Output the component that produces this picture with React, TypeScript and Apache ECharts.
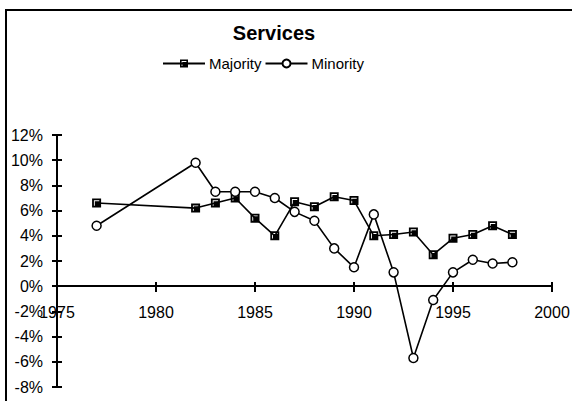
import React, { useEffect, useRef } from "react";
import * as echarts from "echarts";

const years = [1977, 1982, 1983, 1984, 1985, 1986, 1987, 1988, 1989, 1990, 1991, 1992, 1993, 1994, 1995, 1996, 1997, 1998];
const majority = [6.6, 6.2, 6.6, 7.0, 5.4, 4.0, 6.7, 6.3, 7.1, 6.8, 4.0, 4.1, 4.3, 2.5, 3.8, 4.1, 4.8, 4.1];
const minority = [4.8, 9.8, 7.5, 7.5, 7.5, 7.0, 5.9, 5.2, 3.0, 1.5, 5.7, 1.1, -5.7, -1.1, 1.1, 2.1, 1.8, 1.9];
const seriesNames = ["Majority", "Minority"];
const chartTitle = "Services";

const FONT = "'Liberation Sans', Arial, sans-serif";
const squareSymbol = "path://M0 0 H10 V10 H0 Z M2 2 V8 H3 V3 H8 V2 Z";

export default function App() {
  const ref = useRef<HTMLDivElement>(null);
  useEffect(() => {
    if (!ref.current) return;
    const chart = echarts.init(ref.current, undefined, { renderer: "svg" });
    const axisCommon = { min: 1975, max: 2000, interval: 5 };
    const yCommon = { min: -8, max: 12, interval: 2 };
    const hidden = {
      show: false,
      axisLine: { show: false },
      axisTick: { show: false },
      axisLabel: { show: false },
      splitLine: { show: false },
    };
    chart.setOption({
      animation: false,
      backgroundColor: "#ffffff",
      title: {
        text: chartTitle,
        left: 269,
        top: 18,
        textAlign: "center",
        textStyle: { fontFamily: FONT, fontSize: 20, fontWeight: "bold", color: "#000" },
      },
      legend: {
        left: 157,
        top: 51,
        itemWidth: 42,
        itemHeight: 10,
        itemGap: 3,
        textStyle: { fontFamily: FONT, fontSize: 15, color: "#000", padding: [0, 0, 0, -1] },
        data: seriesNames,
      },
      graphic: [
        {
          type: "rect",
          shape: { x: 6, y: 10, width: 700, height: 500 },
          style: { fill: "none", stroke: "#000", lineWidth: 2 },
          silent: true,
        },
      ],
      grid: [
        { left: 57, right: 20, top: 135, bottom: 14, containLabel: false, outerBoundsMode: "none" },
        { left: 57, right: 20, top: 135, bottom: 115, containLabel: false, outerBoundsMode: "none" },
      ],
      xAxis: [
        { type: "value", gridIndex: 0, ...axisCommon, ...hidden },
        {
          type: "value",
          gridIndex: 1,
          position: "bottom",
          ...axisCommon,
          axisLine: { show: true, onZero: false, lineStyle: { color: "#000", width: 2 } },
          axisTick: { show: true, inside: false, length: 6, lineStyle: { color: "#000", width: 2 } },
          axisLabel: { margin: 18, fontFamily: FONT, fontSize: 16, color: "#000", formatter: (v: number) => String(v) },
          splitLine: { show: false },
        },
        {
          type: "value",
          gridIndex: 1,
          position: "bottom",
          ...axisCommon,
          axisLine: { show: false, onZero: false },
          axisTick: { show: true, inside: true, length: 4, lineStyle: { color: "#000", width: 2 } },
          axisLabel: { show: false },
          splitLine: { show: false },
        },
      ],
      yAxis: [
        {
          type: "value",
          gridIndex: 0,
          position: "left",
          ...yCommon,
          axisLine: { show: true, onZero: false, lineStyle: { color: "#000", width: 2 } },
          axisTick: { show: true, inside: false, length: 5, lineStyle: { color: "#000", width: 2 } },
          axisLabel: { margin: 14, fontFamily: FONT, fontSize: 16, color: "#000", formatter: "{value}%" },
          splitLine: { show: false },
        },
        {
          type: "value",
          gridIndex: 0,
          position: "left",
          ...yCommon,
          axisLine: { show: false, onZero: false },
          axisTick: { show: true, inside: true, length: 5, lineStyle: { color: "#000", width: 2 } },
          axisLabel: { show: false },
          splitLine: { show: false },
        },
        { type: "value", gridIndex: 1, min: 0, max: 12, ...hidden },
      ],
      series: [
        {
          name: seriesNames[0],
          type: "line",
          xAxisIndex: 0,
          yAxisIndex: 0,
          data: years.map((y, i) => [y, majority[i]]),
          symbol: squareSymbol,
          symbolSize: 9,
          showAllSymbol: true,
          z: 3,
          lineStyle: { color: "#000", width: 1.6 },
          itemStyle: { color: "#000", borderWidth: 0 },
        },
        {
          name: seriesNames[1],
          type: "line",
          xAxisIndex: 0,
          yAxisIndex: 0,
          data: years.map((y, i) => [y, minority[i]]),
          symbol: "circle",
          symbolSize: 9,
          showAllSymbol: true,
          z: 3,
          lineStyle: { color: "#000", width: 1.6 },
          itemStyle: { color: "#fff", borderColor: "#000", borderWidth: 1.5 },
        },
      ],
    });
    return () => chart.dispose();
  }, []);
  return (
    <div
      ref={ref}
      style={{ position: "fixed", left: 0, top: 0, width: 572, height: 401, background: "#fff" }}
    />
  );
}
